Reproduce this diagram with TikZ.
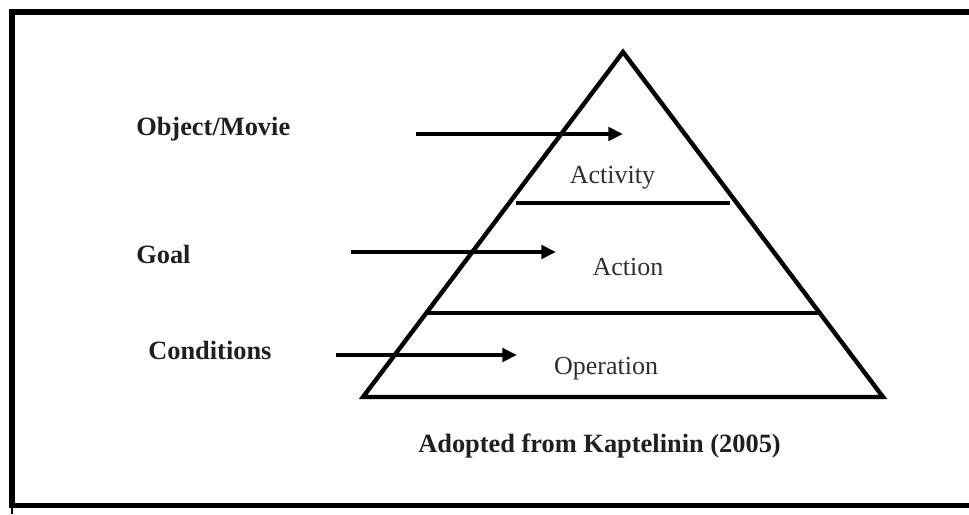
\documentclass[tikz,border=0pt]{standalone}
\usepackage{fontspec}
\setmainfont{Liberation Serif}
\usetikzlibrary{arrows.meta}
\begin{document}
\begin{tikzpicture}[x=0.75pt,y=-0.75pt,
  frame/.style={line width=4.2pt},
  edge/.style={line width=3.3pt, line join=miter},
  level/.style={line width=3pt},
  feed/.style={line width=3pt, -{Triangle[length=11pt,width=10pt]}},
  label/.style={font=\fontsize{19.8}{24}\selectfont\bfseries, text=black!88, inner sep=0pt, anchor=base west},
  layer/.style={font=\fontsize{19.5}{24}\selectfont, text=black!82, inner sep=0pt, anchor=base}]
\useasboundingbox (0,0) rectangle (969,514);

% open frame (no right side)
\draw[frame] (975,12) -- (12,12) -- (12,505.5) -- (975,505.5);
\draw[line width=1.2pt] (12,505) -- (12,514);

% pyramid
\coordinate (apex) at (623,52);
\coordinate (bl) at (363,397);
\coordinate (br) at (883,397);
\draw[edge] (apex) -- (bl) -- (br) -- cycle;

% layer dividers
\coordinate (a1) at (516,203);
\coordinate (a2) at (730,203);
\coordinate (b1) at (428,312.5);
\coordinate (b2) at (820,312.5);
\draw[level] (a1) -- (a2);
\draw[level] (b1) -- (b2);

% layer names
\node[layer] (activity) at (612.5,183) {Activity};
\node[layer] (action) at (628,275) {Action};
\node[layer] (operation) at (606,374) {Operation};

% side labels
\node[label] (object) at (136,135) {Object/Movie};
\node[label] (goal) at (136,263) {Goal};
\node[label] (cond) at (148,359) {Conditions};

% arrows into the layers
\coordinate (s1) at (416,134);
\coordinate (e1) at (623,134);
\coordinate (s2) at (351,252);
\coordinate (e2) at (556,252);
\coordinate (s3) at (336,355);
\coordinate (e3) at (517,355);
\draw[feed] (s1) -- (e1);
\draw[feed] (s2) -- (e2);
\draw[feed] (s3) -- (e3);

% source note
\node[label] (source) at (418,452) {Adopted from Kaptelinin (2005)};
\end{tikzpicture}
\end{document}
